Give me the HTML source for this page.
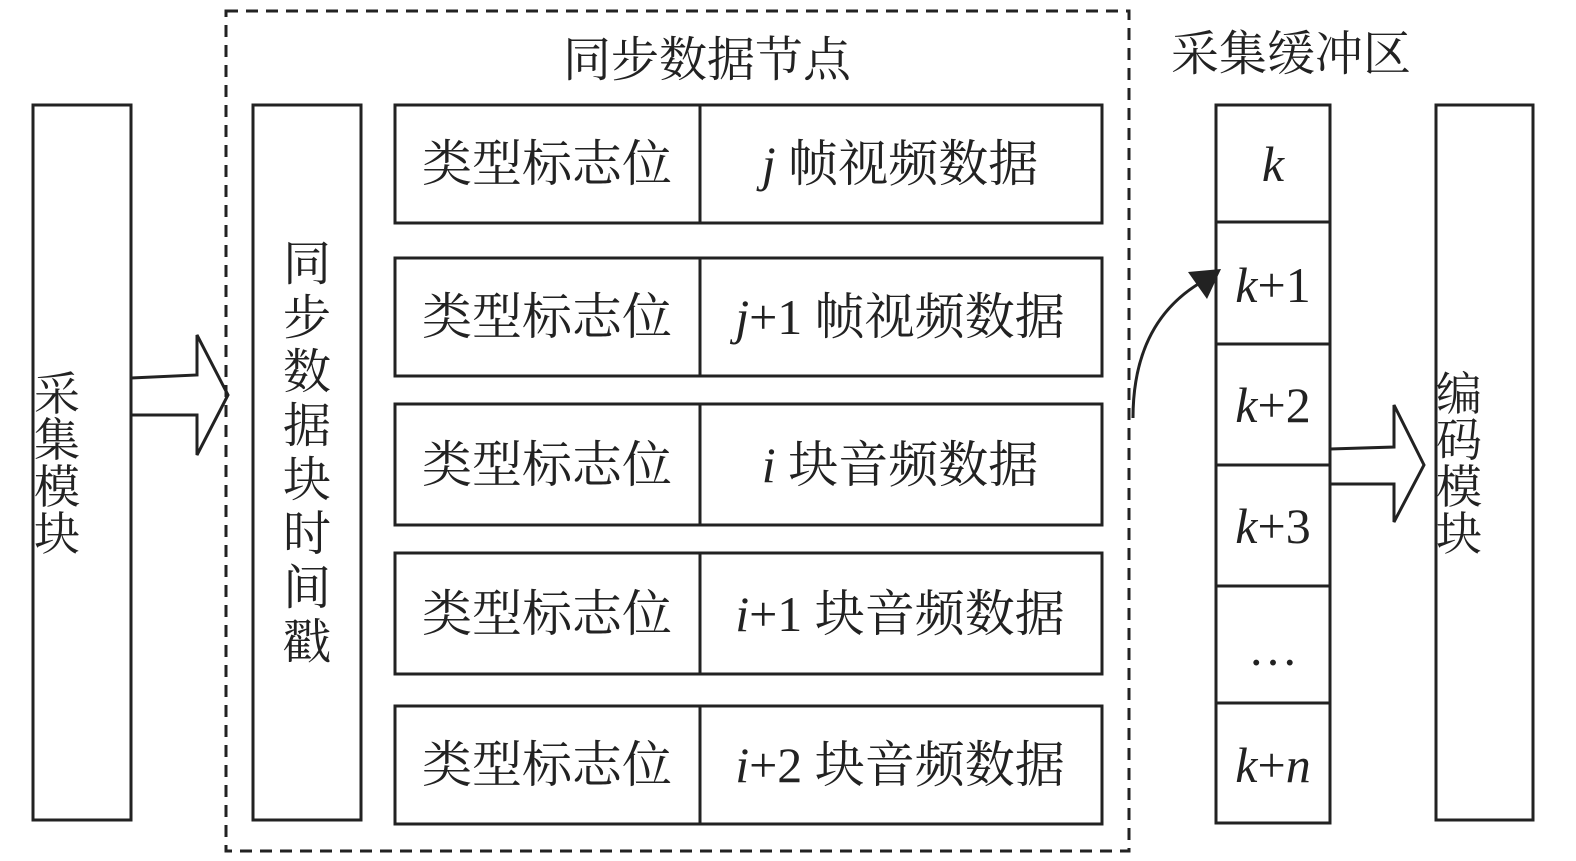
<!DOCTYPE html>
<html><head><meta charset="utf-8"><style>body{margin:0;background:#fff}svg{display:block}
text{font-family:"Liberation Serif","Noto Serif CJK SC",serif;fill:#222}</style></head><body>
<svg width="1576" height="861" viewBox="0 0 1576 861" xmlns="http://www.w3.org/2000/svg">
<g fill="none" stroke="#222" stroke-width="3">
<rect x="33" y="105" width="98" height="715"/>
<rect x="226" y="11" width="903" height="840" stroke-dasharray="12,8"/>
<rect x="253" y="105" width="108" height="715"/>
<rect x="395" y="105" width="707" height="118"/><line x1="700" y1="105" x2="700" y2="223"/>
<rect x="395" y="258" width="707" height="118"/><line x1="700" y1="258" x2="700" y2="376"/>
<rect x="395" y="404" width="707" height="121"/><line x1="700" y1="404" x2="700" y2="525"/>
<rect x="395" y="553" width="707" height="121"/><line x1="700" y1="553" x2="700" y2="674"/>
<rect x="395" y="706" width="707" height="118"/><line x1="700" y1="706" x2="700" y2="824"/>
<rect x="1216" y="105" width="114" height="718"/>
<line x1="1216" y1="222" x2="1330" y2="222"/><line x1="1216" y1="344" x2="1330" y2="344"/>
<line x1="1216" y1="465" x2="1330" y2="465"/><line x1="1216" y1="586" x2="1330" y2="586"/>
<line x1="1216" y1="703" x2="1330" y2="703"/>
<rect x="1436" y="105" width="97" height="715"/>
<polyline points="131,378 197,375 197,335 228,395 197,455 197,415 131,415"/>
<polyline points="1330,449 1394,447 1394,405 1424,465 1394,522 1394,484 1330,484"/>
<path d="M1133,418 Q1133,320 1205,280"/>
</g>
<polygon points="1188,272 1221,269 1207,299" fill="#222"/>
<g font-size="48" text-anchor="middle">
<text x="707" y="76">同步数据节点</text>
<text x="1291" y="70">采集缓冲区</text>
</g>
<g font-size="46" text-anchor="middle">
<text x="57" y="410">采</text><text x="57" y="456">集</text><text x="57" y="503">模</text><text x="57" y="550">块</text>
<text x="1459" y="410">编</text><text x="1459" y="456">码</text><text x="1459" y="503">模</text><text x="1459" y="550">块</text>
</g>
<g font-size="48" text-anchor="middle">
<text x="307" y="280">同</text><text x="307" y="334">步</text><text x="307" y="388">数</text><text x="307" y="442">据</text><text x="307" y="496">块</text><text x="307" y="550">时</text><text x="307" y="604">间</text><text x="307" y="658">戳</text>
</g>
<g font-size="50" text-anchor="middle">
<text x="547" y="181">类型标志位</text>
<text x="547" y="334">类型标志位</text>
<text x="547" y="482">类型标志位</text>
<text x="547" y="631">类型标志位</text>
<text x="547" y="782">类型标志位</text>
<text x="900" y="181"><tspan font-style="italic">j</tspan> 帧视频数据</text>
<text x="900" y="334"><tspan font-style="italic">j</tspan>+1 帧视频数据</text>
<text x="900" y="482"><tspan font-style="italic">i</tspan> 块音频数据</text>
<text x="900" y="631"><tspan font-style="italic">i</tspan>+1 块音频数据</text>
<text x="900" y="782"><tspan font-style="italic">i</tspan>+2 块音频数据</text>
<text x="1273" y="181" font-style="italic">k</text>
<text x="1273" y="302"><tspan font-style="italic">k</tspan>+1</text>
<text x="1273" y="422"><tspan font-style="italic">k</tspan>+2</text>
<text x="1273" y="543"><tspan font-style="italic">k</tspan>+3</text>
<text x="1273" y="665">…</text>
<text x="1273" y="782"><tspan font-style="italic">k</tspan>+<tspan font-style="italic">n</tspan></text>
</g>
</svg>
</body></html>
